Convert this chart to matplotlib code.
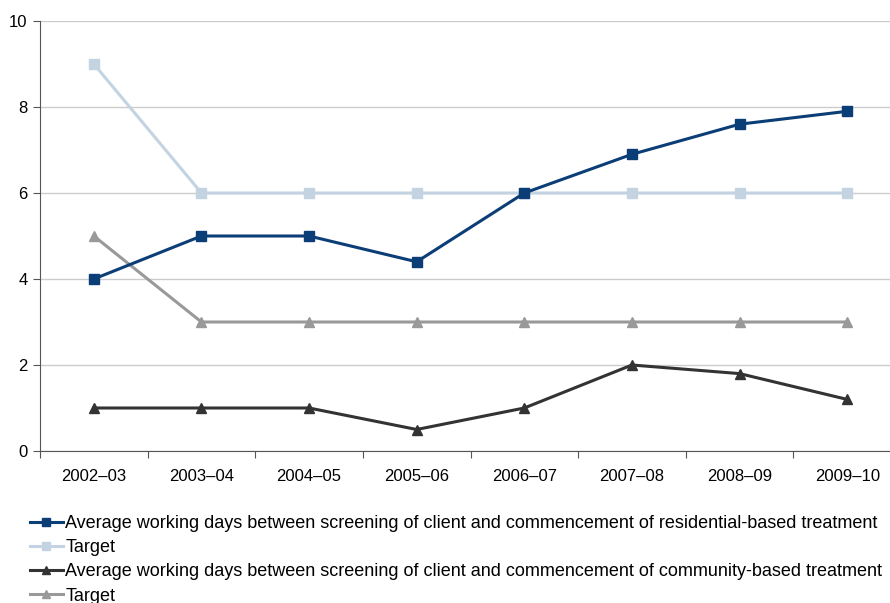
import matplotlib
matplotlib.use("Agg")
import matplotlib.pyplot as plt

plt.rcParams['font.family'] = ['Liberation Sans', 'DejaVu Sans']

# Data
years = ["2002–03", "2003–04", "2004–05", "2005–06", "2006–07", "2007–08", "2008–09", "2009–10"]
residential = [4, 5, 5, 4.4, 6, 6.9, 7.6, 7.9]
residential_target = [9, 6, 6, 6, 6, 6, 6, 6]
community = [1, 1, 1, 0.5, 1, 2, 1.8, 1.2]
community_target = [5, 3, 3, 3, 3, 3, 3, 3]

labels = [
    "Average working days between screening of client and commencement of residential-based treatment",
    "Target",
    "Average working days between screening of client and commencement of community-based treatment",
    "Target",
]

fig = plt.figure(figsize=(8.9, 6.03), dpi=100)
ax = fig.add_axes([40 / 890, 1 - 451 / 603, 861 / 890, 430 / 603])

x = range(len(years))
ax.plot(x, residential, color="#0b3d77", marker="s", markersize=7, linewidth=2.2, label=labels[0], zorder=4)
ax.plot(x, residential_target, color="#c3d3e2", marker="s", markersize=7, linewidth=2.2, label=labels[1], zorder=3)
ax.plot(x, community, color="#333333", marker="^", markersize=7, linewidth=2.2, label=labels[2], zorder=4)
ax.plot(x, community_target, color="#999999", marker="^", markersize=7, linewidth=2.2, label=labels[3], zorder=3)

ax.set_xlim(-0.5, len(years) - 0.5)
ax.set_ylim(0, 10)
ax.set_yticks([0, 2, 4, 6, 8, 10])
ax.yaxis.grid(True, color="#cccccc", linewidth=1)
ax.set_axisbelow(True)

ax.set_xticks([i + 0.5 for i in range(-1, len(years))], minor=False)
ax.set_xticklabels([])
ax.set_xticks(list(x), minor=True)
ax.set_xticklabels(years, minor=True)
ax.tick_params(axis="x", which="minor", length=0, pad=13, labelsize=12)
ax.tick_params(axis="x", which="major", length=5, color="#555555", direction="out")
ax.tick_params(axis="y", length=5, color="#555555", labelsize=12, pad=4)

for s in ["top", "right"]:
    ax.spines[s].set_visible(False)
for s in ["left", "bottom"]:
    ax.spines[s].set_color("#555555")

fig.legend(loc="upper left", bbox_to_anchor=(30 / 890, 1 - 515 / 603), frameon=False,
           fontsize=13.0, handlelength=1.8, handletextpad=0.15, labelspacing=0.4,
           markerscale=0.85, borderaxespad=0, borderpad=0)

fig.savefig("out.png", dpi=100)
